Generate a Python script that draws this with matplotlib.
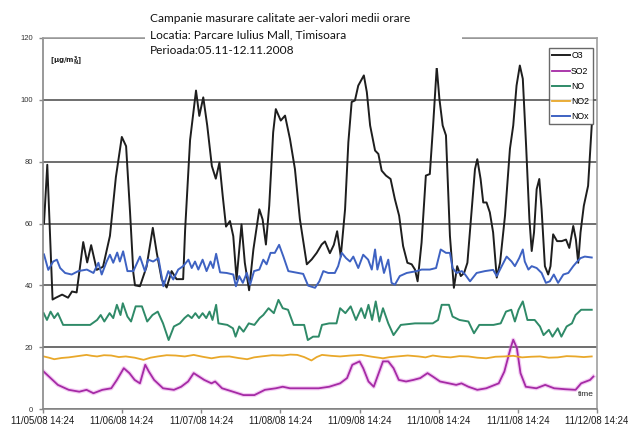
import matplotlib
matplotlib.use("Agg")
import matplotlib.pyplot as plt
from matplotlib.patches import Rectangle

# ore de la inceputul campaniei (11/05/08 14:24) si valori
o3_h = [0.3, 1.3, 2.9, 3.9, 5.8, 7.6, 8.8, 10.2, 12.2, 13.4, 14.6, 16.3, 18.2, 20.3, 22.1, 23.9,
        25.2, 26.4, 27.4, 27.9, 29.4, 31.4, 33.3, 34.5, 36.0, 37.5, 39.0, 40.5, 42.5, 43.1, 44.6,
        46.4, 47.4, 48.6, 49.8, 51.2, 52.4, 53.5, 54.5, 55.5, 56.7, 57.7, 58.7, 60.2, 61.2, 62.5,
        63.8, 65.6, 66.6, 67.6, 68.6, 69.8, 70.6, 72.1, 73.4, 74.9, 76.4, 77.9, 80.0, 81.5, 83.0,
        84.5, 85.5, 87.0, 88.2, 89.2, 90.3, 91.6, 92.6, 93.6, 94.6, 95.6, 97.3, 98.2, 99.2, 100.7,
        101.7, 102.7, 104.0, 105.4, 106.7, 108.0, 109.2, 110.5, 111.8, 112.8, 113.6, 114.8, 116.1,
        117.3, 118.3, 119.4, 120.2, 121.2, 122.2, 123.4, 124.6, 125.6, 126.7, 127.7, 128.7, 130.0,
        131.0, 131.7, 132.7, 133.5, 134.5, 135.5, 136.5, 137.6, 138.6, 140.1, 141.6, 142.6, 143.6,
        144.6, 145.5, 146.5, 147.5, 148.2, 148.9, 149.7, 150.5, 151.2, 152.2, 153.2, 153.9, 154.7,
        155.9, 157.3, 158.6, 159.6, 160.8, 161.6, 162.3, 163.0, 164.0, 165.3, 166.4]
o3 = [60, 79, 35.4, 36, 37, 36, 38, 37.7, 54, 47.4, 53, 45, 46, 56, 75, 88,
      85, 63.6, 44, 40, 39.7, 46, 58.6, 50.5, 41.9, 39.3, 44.6, 42, 42, 58, 87,
      103, 94.8, 100.8, 91.7, 78.6, 74.5, 79.7, 68.9, 59, 60.8, 55.9, 41.9, 59.7, 47.3, 38.4,
      51.6, 64.6, 61.3, 53.2, 65.7, 89.5, 97, 93.3, 94.9, 87.3, 77.6, 61.4, 46.8, 48.4, 50.5,
      53.2, 54.2, 50.4, 53.1, 57.5, 49.3, 64.6, 86.3, 99.3, 99.8, 104.6, 107.9, 102.5, 91.7, 83.6,
      82.5, 77.1, 75.5, 74.4, 67.9, 62.5, 52.7, 47.3, 46.8, 45.1, 41.3, 53.8, 75.5,
      76, 91.7, 110.6, 100.4, 91.7, 88.5, 56, 39.2, 46.2, 43, 44, 47.3, 64.6,
      77.6, 80.8, 74.4, 66.8, 66.8, 63.6, 57.1, 42.5, 47.3, 62.5, 84.2, 91.7, 104.6,
      111.1, 106.8, 85.2, 61.4, 51.1, 57.1, 71.1, 74.4, 64.6, 46.2, 43.5, 46.2, 56.5,
      54.3, 54.3, 54.8, 52.1, 59.2, 54.8, 47.3, 57.1, 65.7, 72.2, 91.7]

so2_h = [0.2, 2.3, 4.5, 7.8, 11.0, 13.2, 15.3, 18.0, 20.7, 22.4, 24.5, 26.2, 27.8, 29.4, 31.0,
         32.1, 33.7, 36.4, 39.7, 41.9, 44.0, 45.7, 47.3, 48.9, 51.1, 52.2, 54.3, 57.6, 60.8, 64.1,
         67.3, 70.6, 72.7, 74.9, 79.2, 83.6, 86.8, 90.1, 92.2, 93.8, 96.0, 97.1, 98.7, 100.3, 101.8,
         103.1, 104.7, 106.3, 107.9, 110.1, 112.3, 114.4, 116.6, 118.2, 120.4, 123.1, 125.3, 126.9,
         129.0, 131.7, 134.4, 138.2, 139.9, 141.8, 142.6, 143.7, 144.8, 146.4, 149.6, 152.3, 155.0,
         158.3, 161.5, 163.2, 165.9, 166.9]
so2 = [12.1, 10, 7.8, 6.2, 5.6, 6.2, 5.1, 6.2, 6.7, 9.4, 13.2, 11.6, 9.4, 8.3, 14.3,
       12.1, 9.4, 6.7, 6.2, 7.2, 8.9, 11.6, 10.5, 9.4, 8.3, 8.9, 6.7, 5.6, 4.5, 4.5,
       6.2, 6.7, 7.2, 6.7, 6.7, 6.7, 7.2, 8.3, 10, 14.3, 15.4, 13.2, 8.9, 7.2, 11.6,
       15.4, 15.4, 13.2, 9.4, 8.9, 9.4, 10, 11.6, 10.5, 8.9, 8.3, 7.8, 8.3,
       7.2, 6.2, 6.7, 8.3, 12.1, 19.7, 22.4, 19.7, 11.6, 7.2, 6.7, 7.8, 6.7,
       6.4, 6.2, 8.3, 9.4, 10.5]

no_h = [0.2, 1.2, 2.3, 3.4, 4.5, 6.1, 9.9, 14.3, 16.4, 17.5, 18.6, 20.2, 21.3, 22.4, 23.5, 24.2,
        25.6, 26.7, 28.1, 30.0, 31.6, 33.2, 34.8, 36.4, 38.1, 39.7, 41.5, 42.9, 44.0, 45.1, 46.2,
        47.3, 48.4, 49.5, 50.5, 51.4, 52.5, 53.2, 55.9, 57.6, 58.4, 59.5, 60.8, 62.4, 64.1, 65.7,
        66.8, 68.4, 70.0, 71.4, 72.7, 74.3, 76.0, 79.2, 80.3, 81.9, 83.6, 84.6, 86.8, 89.0, 90.1,
        91.7, 93.3, 94.9, 96.5, 97.6, 98.7, 99.8, 100.9, 102.0, 103.1, 104.7, 106.3, 108.5, 112.8,
        118.2, 119.8, 120.9, 123.1, 124.2, 126.3, 129.0, 130.7, 132.3, 136.6, 138.8, 140.4, 142.0,
        143.1, 144.2, 145.5, 146.9, 149.1, 150.7, 151.8, 153.4, 154.5, 156.1, 157.2, 158.8, 160.4,
        161.5, 163.2, 166.4]
no = [31, 28.8, 31.5, 29.4, 31, 27.2, 27.2, 27.2, 28.8, 30.4, 28.3, 31, 29.4, 33.7, 30.4, 34.2,
      29.9, 28.3, 33.2, 33.2, 28.3, 30.4, 31.5, 27.7, 22.3, 26.7, 27.7, 29.4, 30.4, 29.4, 31,
      29.4, 31, 29.4, 31.5, 28.8, 33.7, 27.7, 27.2, 26.1, 23.4, 26.7, 25, 27.7, 27.2, 29.4,
      30.4, 32.6, 31, 35.3, 32.6, 32.1, 27.2, 27.2, 22.3, 23.4, 23.4, 27.2, 27.7, 27.7, 32.6,
      31, 33.2, 28.8, 32.6, 29.4, 33.7, 28.8, 34.8, 28.3, 32.6, 27.7, 23.9, 27.2, 27.7,
      27.7, 28.8, 33.7, 33.7, 29.9, 28.8, 28.3, 24.5, 27.2, 27.2, 27.7, 31.5, 32.1,
      28.3, 32.1, 34.8, 28.8, 28.8, 26.7, 23.9, 25.6, 23.4, 26.1, 23.4, 26.7, 27.7,
      30.4, 32.1, 32.1]

no2_h = [0.2, 1.8, 3.4, 5.6, 7.8, 10.5, 13.2, 14.8, 16.4, 18.5, 20.7, 23.0, 25.1, 27.8, 30.5,
         32.6, 34.8, 37.5, 40.2, 43.0, 45.7, 48.4, 51.1, 53.8, 56.5, 59.2, 61.9, 64.0, 66.2, 69.5,
         72.7, 75.0, 77.1, 79.2, 81.4, 83.0, 84.6, 87.4, 90.1, 93.3, 96.5, 99.8, 103.1, 105.2,
         107.4, 110.6, 113.9, 116.0, 118.2, 120.9, 123.6, 126.3, 129.0, 131.7, 134.4, 137.2,
         139.9, 142.6, 145.3, 148.0, 150.7, 153.4, 156.1, 158.8, 161.5, 164.0, 166.4]
no2 = [17.0, 16.6, 16.1, 16.5, 16.7, 17.1, 17.5, 17.2, 17.0, 17.4, 17.3, 16.8, 17.0, 16.6, 15.9,
       16.6, 17.0, 17.4, 17.3, 17.0, 17.5, 16.9, 16.4, 16.9, 17.0, 16.5, 16.1, 16.7, 17.0, 17.4,
       17.3, 17.6, 17.5, 16.8, 15.7, 16.8, 17.5, 17.2, 17.0, 17.3, 17.5, 16.9, 16.4, 16.8,
       17.0, 17.3, 17.0, 16.7, 17.3, 16.9, 16.7, 17.1, 17.0, 16.6, 16.4, 16.9,
       17.0, 17.2, 16.7, 16.9, 17.0, 16.6, 16.7, 17.1, 17.0, 16.8, 17.0]

nox_h = [0.3, 1.6, 3.1, 4.2, 5.2, 6.7, 8.7, 10.7, 13.3, 15.3, 16.8, 17.8, 19.3, 20.3, 21.3, 22.5,
         23.3, 24.3, 25.6, 27.4, 29.4, 30.9, 31.9, 33.4, 35.0, 36.5, 38.0, 39.5, 41.0, 42.5, 44.1,
         45.1, 46.1, 47.1, 48.4, 49.6, 50.8, 51.6, 52.5, 53.7, 55.7, 57.7, 58.5, 59.5, 60.6, 61.8,
         62.8, 64.0, 65.6, 66.8, 67.8, 69.0, 70.3, 71.6, 72.9, 74.4, 76.4, 78.9, 80.4, 82.5, 83.8,
         85.0, 86.5, 88.5, 89.5, 90.6, 91.9, 93.1, 94.1, 95.6, 97.1, 98.6, 99.7, 100.7, 101.4, 102.4,
         103.4, 104.7, 105.7, 106.7, 108.2, 110.3, 113.3, 114.8, 117.3, 119.2, 120.6, 122.2, 123.4,
         124.2, 125.4, 127.0, 128.0, 129.5, 131.5, 134.0, 136.5, 137.6, 139.1, 140.6, 142.1, 143.1,
         144.4, 145.5, 146.1, 147.2, 148.2, 149.7, 151.2, 152.5, 153.7, 154.9, 156.2, 157.8, 159.3,
         160.8, 162.0, 163.0, 164.3, 166.4]
nox = [50, 45, 47.7, 48.3, 45.6, 44, 43.5, 44.6, 45.1, 44, 47.3, 43.5, 47.7, 49.9, 47.3, 50.6,
       47.7, 51, 44.6, 44.6, 49.3, 44.6, 48.3, 47.7, 48.8, 39.7, 44.6, 41.9, 45.1, 46.2, 48.3,
       45.6, 47.7, 45.1, 48.3, 44.6, 47.7, 45.6, 50.2, 44.2, 44, 43.5, 39.7, 43, 40.8, 44,
       40.2, 44.6, 45.1, 48.3, 46.8, 50.5, 50.5, 53.1, 49.3, 44.6, 44.2, 43.7, 39.9, 39.2, 41.3,
       44.6, 44, 44, 46.2, 50.5, 48.8, 47.7, 49.3, 45.6, 49.9, 48.3, 45.1, 51.6, 45.1, 49.3,
       44, 48.3, 40.8, 40.2, 43, 44, 44.6, 45.1, 45.1, 45.6, 51.6, 50.5, 50.5,
       45.6, 44, 44.6, 43.5, 41.3, 44, 44.6, 45, 43, 46.2, 49.3, 47.7, 46.2,
       48.8, 51.6, 47.7, 45.1, 46.2, 45.6, 44, 40.8, 41.3, 43.5, 40.8, 43.5, 44,
       46.2, 47.7, 48.8, 49.3, 49]

day_ticks = [0, 24, 48, 72, 96, 120, 144, 168]
day_labels = ["11/05/08 14:24", "11/06/08 14:24", "11/07/08 14:24", "11/08/08 14:24",
              "11/09/08 14:24", "11/10/08 14:24", "11/11/08 14:24", "11/12/08 14:24"]
y_ticks = [0, 20, 40, 60, 80, 100, 120]

W, H = 628, 428
fig = plt.figure(figsize=(W / 100, H / 100), dpi=100)
ax = fig.add_axes([43 / W, 1 - 409 / H, (597 - 43) / W, (409 - 38) / H])

ax.plot(o3_h, o3, color="#1e1e1e", lw=1.4, label="O3")
ax.plot(so2_h, so2, color="#e070e0", lw=3.0, alpha=0.35)
ax.plot(so2_h, so2, color="#a52aa5", lw=1.3, label="SO2")
ax.plot(no_h, no, color="#2f8a68", lw=1.4, label="NO")
ax.plot(no2_h, no2, color="#e9a82a", lw=1.3, label="NO2")
ax.plot(nox_h, nox, color="#3e62c2", lw=1.4, label="NOx")

ax.set_xlim(0, 168)
ax.set_ylim(0, 120)
ax.set_yticks(y_ticks)
ax.set_xticks(day_ticks)
ax.set_xticklabels(day_labels, fontsize=6.9, family="Liberation Sans", color="#1a1a1a")
ax.set_yticklabels([str(v) for v in y_ticks], fontsize=5.5, family="Liberation Sans",
                   color="#333333")
ax.tick_params(axis="both", length=3, width=1, color="#888888", pad=2)
ax.tick_params(axis="y", pad=4)
ax.yaxis.grid(True, color="#6e6e6e", lw=1.4)
for s in ax.spines.values():
    s.set_color("#a0a0a0")
    s.set_linewidth(1.2)
ax.spines["left"].set_color("#888888")
ax.spines["bottom"].set_color("#888888")

ax.text(0.012, 0.955, r"[$\mathregular{\mu g/m^3_N}$]", transform=ax.transAxes,
        fontsize=5, fontweight="bold", va="top", ha="left", color="#222222")
ax.text(0.995, 0.04, "time", transform=ax.transAxes, fontsize=6, ha="right",
        va="center", color="#222222", family="Liberation Sans")

handles, labels = ax.get_legend_handles_labels()
leg = ax.legend(handles, labels, loc="upper right", bbox_to_anchor=(1.0, 0.985),
                frameon=True, fancybox=False, handlelength=2.0,
                handletextpad=0.15, labelspacing=0.7, borderpad=0.4,
                prop={"family": "Liberation Sans", "size": 6.3})
leg.get_frame().set_edgecolor("#444444")
leg.get_frame().set_linewidth(1.0)

# caseta alba a titlului peste linia de 120
fig.patches.append(Rectangle((145 / W, 1 - 68 / H), (462 - 145) / W, 62 / H,
                             transform=fig.transFigure, facecolor="white",
                             edgecolor="none", zorder=5))
title_lines = ["Campanie masurare calitate aer-valori medii orare",
               "Locatia: Parcare Iulius Mall, Timisoara",
               "Perioada:05.11-12.11.2008"]
for i, t in enumerate(title_lines):
    fig.text(150 / W, 1 - (19 + 16 * i) / H, t, fontsize=8.6, family="Lato",
             va="center", ha="left", color="#111111", zorder=6)

fig.savefig("out.png", dpi=100)
